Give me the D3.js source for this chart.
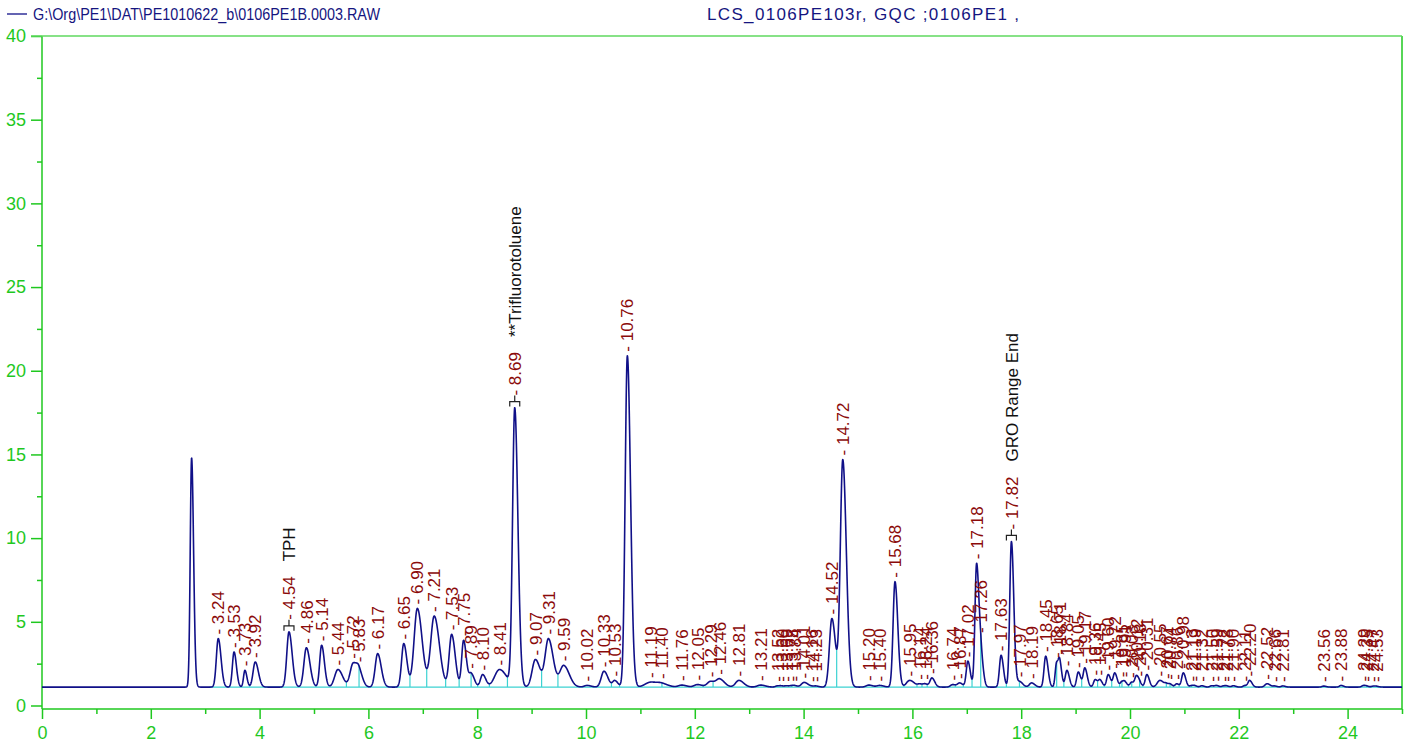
<!DOCTYPE html>
<html>
<head>
<meta charset="utf-8">
<script src="https://cdn.jsdelivr.net/npm/d3@7"></script>
<style>
  body { margin: 0; background: #fff; }
  svg { display: block; font-family: "Liberation Sans", Arial, Helvetica, sans-serif; }
</style>
</head>
<body>
<svg id="chart" width="1404" height="749"></svg>
<script>
// ---- Run header ----
const headerFile = "G:\\Org\\PE1\\DAT\\PE1010622_b\\0106PE1B.0003.RAW";
const headerSample = "LCS_0106PE103r, GQC ;0106PE1 ,";

// ---- Axis ticks ----
const xMajorTicks = [0, 2, 4, 6, 8, 10, 12, 14, 16, 18, 20, 22, 24];
const xMinorTicks = [1, 3, 5, 7, 9, 11, 13, 15, 17, 19, 21, 23, 25];
const yMajorTicks = [0, 5, 10, 15, 20, 25, 30, 35, 40];
const yMinorTicks = [2.5, 7.5, 12.5, 17.5, 22.5, 27.5, 32.5, 37.5];

// ---- Detector baseline level ----
const baselineLevel = 1.1;
const integrationStart = 3.08;

// ---- Solvent front (not integrated / not labelled) ----
const solventTimes = [2.75];
const solventHeights = [14.8];
const solventWidths = [0.025];

// ---- Integrated peaks: retention time (min), apex signal, peak sigma (min) ----
const peakTimes = [3.24, 3.53, 3.73, 3.92, 4.54, 4.86, 5.14, 5.44, 5.72, 5.83,
  6.17, 6.65, 6.90, 7.21, 7.53, 7.75, 7.89, 8.10, 8.41, 8.69,
  9.07, 9.31, 9.59, 10.02, 10.33, 10.53, 10.76, 11.19, 11.40, 11.76,
  12.05, 12.29, 12.46, 12.81, 13.21, 13.52, 13.60, 13.69, 13.78, 13.84,
  14.01, 14.16, 14.23, 14.52, 14.72, 15.20, 15.40, 15.68, 15.95, 16.14,
  16.24, 16.36, 16.74, 16.87, 17.02, 17.18, 17.26, 17.63, 17.82, 17.97,
  18.19, 18.45, 18.65, 18.71, 18.84, 19.05, 19.17, 19.36, 19.45, 19.60,
  19.72, 19.85, 19.91, 20.03, 20.12, 20.18, 20.31, 20.55, 20.67, 20.74,
  20.86, 20.98, 21.13, 21.19, 21.32, 21.50, 21.59, 21.72, 21.78, 21.90,
  22.11, 22.20, 22.52, 22.66, 22.81, 23.56, 23.88, 24.29, 24.35, 24.47, 24.53];

const peakHeights = [4.0, 3.2, 2.1, 2.6, 4.4, 3.45, 3.6, 2.15, 2.55, 2.35,
  3.1, 3.7, 5.8, 5.35, 4.25, 3.9, 1.95, 1.85, 2.15, 17.8,
  2.75, 4.0, 2.4, 1.2, 2.05, 1.5, 20.9, 1.4, 1.35, 1.22,
  1.25, 1.45, 1.6, 1.5, 1.22, 1.18, 1.18, 1.18, 1.2, 1.2,
  1.38, 1.17, 1.17, 5.2, 14.7, 1.22, 1.2, 7.4, 1.5, 1.3,
  1.3, 1.65, 1.25, 1.35, 2.65, 8.5, 4.1, 3.0, 9.8, 1.45,
  1.35, 2.95, 2.6, 2.8, 2.1, 2.0, 2.25, 1.55, 1.55, 1.85,
  1.95, 1.45, 1.45, 1.4, 1.8, 1.5, 1.85, 1.5, 1.35, 1.3,
  1.3, 1.95, 1.2, 1.2, 1.18, 1.18, 1.2, 1.18, 1.18, 1.18,
  1.2, 1.5, 1.3, 1.17, 1.17, 1.16, 1.2, 1.2, 1.18, 1.16, 1.16];

const peakWidths = [0.035, 0.03, 0.025, 0.04, 0.04, 0.045, 0.035, 0.06, 0.055, 0.045,
  0.045, 0.04, 0.06, 0.065, 0.045, 0.035, 0.04, 0.04, 0.09, 0.04,
  0.06, 0.06, 0.07, 0.05, 0.05, 0.04, 0.04, 0.1, 0.08, 0.06,
  0.06, 0.06, 0.06, 0.06, 0.06, 0.035, 0.035, 0.035, 0.035, 0.035,
  0.05, 0.035, 0.035, 0.045, 0.045, 0.05, 0.05, 0.035, 0.06, 0.04,
  0.04, 0.035, 0.04, 0.04, 0.03, 0.03, 0.03, 0.03, 0.03, 0.04,
  0.04, 0.03, 0.025, 0.025, 0.03, 0.03, 0.03, 0.03, 0.03, 0.03,
  0.03, 0.03, 0.03, 0.03, 0.03, 0.03, 0.03, 0.05, 0.03, 0.03,
  0.03, 0.03, 0.03, 0.03, 0.03, 0.03, 0.03, 0.03, 0.03, 0.03,
  0.03, 0.03, 0.04, 0.03, 0.03, 0.03, 0.03, 0.03, 0.03, 0.03, 0.03];

// ---- Named compounds / timed events ----
const namedTimes = [4.54, 8.69, 17.82];
const namedTexts = ["TPH", "**Trifluorotoluene", "GRO Range End"];

// ---- Layout ----
const svg = d3.select("#chart");
const x = d3.scaleLinear().domain([0, 25]).range([42, 1402]);
const y = d3.scaleLinear().domain([0, 40]).range([705.5, 36]);
const plotBottom = 709;
const green = "#1fc81f";
const traceColor = "#101088";
const labelColor = "#8b0a0a";
const baseColor = "#3cd2d2";

// ---- Peak model (slightly tailed gaussian) ----
const tailFactor = 1.45;
function shape(t, c, s) {
  const sd = t < c ? s : s * tailFactor;
  const z = (t - c) / sd;
  return Math.exp(-0.5 * z * z);
}
const allTimes = solventTimes.concat(peakTimes);
const allHeights = solventHeights.concat(peakHeights);
const allWidths = solventWidths.concat(peakWidths);
const amps = allHeights.map(h => Math.max(h - baselineLevel, 0));
function signal(t) {
  let v = baselineLevel;
  for (let i = 0; i < allTimes.length; i++) {
    if (Math.abs(t - allTimes[i]) < allWidths[i] * 8) v += amps[i] * shape(t, allTimes[i], allWidths[i]);
  }
  return v;
}
// Resolve overlapping peaks so each apex reaches its recorded height
for (let k = 0; k < 40; k++) {
  for (let i = 0; i < allTimes.length; i++) {
    const diff = allHeights[i] - signal(allTimes[i]);
    amps[i] = Math.max(0.01, amps[i] + diff * 0.8);
  }
}

const step = 0.004;
const samples = d3.range(0, 25 + step / 2, step).map(t => [t, signal(t)]);

// ---- Header ----
const header = svg.append("g");
header.append("line").attr("x1", 7).attr("x2", 27).attr("y1", 14).attr("y2", 14)
  .attr("stroke", traceColor).attr("stroke-width", 1.3);
header.append("text").attr("x", 33).attr("y", 20).text(headerFile)
  .attr("font-size", 17).attr("textLength", 347).attr("lengthAdjust", "spacingAndGlyphs")
  .attr("fill", "#151580");
header.append("text").attr("x", 707).attr("y", 20).text(headerSample)
  .attr("font-size", 17).attr("textLength", 312).attr("lengthAdjust", "spacing")
  .attr("fill", "#151580");

// ---- Axes ----
const yMajor = d3.axisLeft(y).tickValues(yMajorTicks).tickSize(11).tickPadding(5);
const yMinor = d3.axisLeft(y).tickValues(yMinorTicks).tickSize(5).tickFormat("");
const xMajor = d3.axisBottom(x).tickValues(xMajorTicks).tickSize(10).tickPadding(7.5).tickFormat(d3.format("d"));
const xMinor = d3.axisBottom(x).tickValues(xMinorTicks).tickSize(5).tickFormat("");

function styleAxis(g) {
  g.select(".domain").remove();
  g.selectAll("line").attr("stroke", green).attr("stroke-width", 1.5);
  g.selectAll("text").attr("fill", green).attr("font-size", 18)
    .attr("font-family", "'Liberation Sans', Arial, sans-serif");
}
svg.append("g").attr("transform", "translate(42,0)").call(yMajor).call(styleAxis);
svg.append("g").attr("transform", "translate(42,0)").call(yMinor).call(styleAxis);
svg.append("g").attr("transform", `translate(0,${plotBottom})`).call(xMajor).call(styleAxis);
svg.append("g").attr("transform", `translate(0,${plotBottom})`).call(xMinor).call(styleAxis);

// Frame
const frame = svg.append("g").attr("stroke", green).attr("stroke-width", 1.5).attr("fill", "none");
frame.append("line").attr("x1", x(0)).attr("x2", x(0)).attr("y1", y(40)).attr("y2", plotBottom);
frame.append("line").attr("x1", x(0)).attr("x2", x(25)).attr("y1", plotBottom).attr("y2", plotBottom);
frame.append("line").attr("x1", x(25)).attr("x2", x(25)).attr("y1", y(40)).attr("y2", plotBottom);
frame.append("line").attr("x1", 31).attr("x2", x(25)).attr("y1", y(40)).attr("y2", y(40)).attr("stroke", "#5fd85f");

// ---- Integration baseline and drop lines ----
const baseG = svg.append("g").attr("stroke", baseColor).attr("stroke-width", 1.2);
baseG.append("line").attr("x1", x(integrationStart)).attr("x2", x(25))
  .attr("y1", y(baselineLevel)).attr("y2", y(baselineLevel));
const drops = [];
for (let i = 0; i < peakTimes.length - 1; i++) {
  const a = peakTimes[i], b = peakTimes[i + 1];
  let best = null;
  for (const s of samples) {
    if (s[0] > a && s[0] < b && (!best || s[1] < best[1])) best = s;
  }
  if (best && best[1] - baselineLevel > 0.08) drops.push(best);
}
baseG.selectAll("line.drop").data(drops).join("line").attr("class", "drop")
  .attr("x1", d => x(d[0])).attr("x2", d => x(d[0]))
  .attr("y1", y(baselineLevel)).attr("y2", d => y(d[1]));

// ---- Trace ----
svg.append("path").datum(samples)
  .attr("fill", "none").attr("stroke", traceColor).attr("stroke-width", 1.6)
  .attr("stroke-linejoin", "round")
  .attr("d", d3.line().x(d => x(d[0])).y(d => y(d[1])));

// ---- Event brackets on named peaks ----
const br = svg.append("g").attr("stroke", "#222").attr("stroke-width", 1.2).attr("fill", "none");
namedTimes.forEach(t => {
  const px = x(t), py = y(signal(t));
  br.append("path").attr("d",
    `M${px - 5},${py - 1}V${py - 6}H${px + 5}V${py - 1}M${px},${py - 6}V${py - 12}`);
});

// ---- Retention-time labels ----
const fmt = d3.format(".2f");
const lbl = svg.append("g").attr("font-size", 17);
peakTimes.forEach(t => {
  const named = namedTimes.indexOf(t);
  const px = x(t);
  const py = y(signal(t)) - (named >= 0 ? 12 : 4);
  const txt = lbl.append("text")
    .attr("transform", `translate(${px},${py}) rotate(-90)`)
    .attr("dy", "0.36em")
    .style("white-space", "pre");
  txt.append("tspan").attr("fill", labelColor).text("- " + fmt(t));
  if (named >= 0) {
    txt.append("tspan").attr("fill", "#111").attr("dx", 15).text(namedTexts[named]);
  }
});
</script>
</body>
</html>
